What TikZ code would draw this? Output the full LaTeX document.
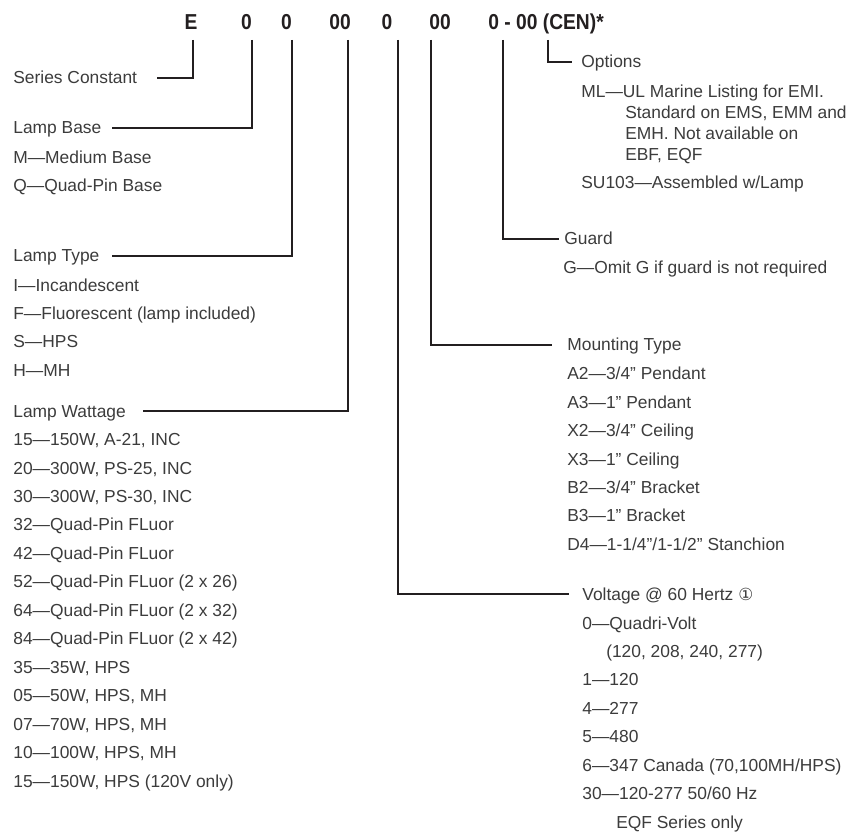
\documentclass[tikz,border=0pt]{standalone}
\usepackage{fontspec}
\setmainfont{Liberation Sans}
\newfontfamily\codefont[FakeStretch=0.89]{Liberation Sans}
\newfontfamily\symfont{DejaVu Sans}
\usetikzlibrary{positioning}
\definecolor{black90}{HTML}{231F20}
\definecolor{black75}{HTML}{3C3C3C}

\tikzset{
  code/.style={black90, anchor=base, inner sep=0pt,
    font=\codefont\bfseries\fontsize{12.3}{14}\selectfont},
  head/.style={black75, anchor=base west, inner sep=0pt,
    font=\fontsize{9.9}{16.2}\selectfont},
  list/.style={head, anchor=north west, align=left},
  lead/.style={black90, line width=1.2pt}
}

\begin{document}
\begin{tikzpicture}[x=0.02cm, y=-0.02cm]
  \useasboundingbox[fill=white] (0,0) rectangle (848,834);

  % the model code
  \node[code] (cE) at (191,30) {E};
  \node[code] (cBase) at (246.5,30) {0};
  \node[code] (cType) at (286.5,30) {0};
  \node[code] (cWatt) at (340,30) {00};
  \node[code] (cVolt) at (387,30) {0};
  \node[code] (cMount) at (440,30) {00};
  \node[code, anchor=base west] (cRest) at (488,30) {0 - 00 (CEN)*};

  \coordinate (tE) at (193,40);
  \coordinate (tBase) at (252,40);
  \coordinate (tType) at (292,40);
  \coordinate (tWatt) at (348,40);
  \coordinate (tVolt) at (398,40);
  \coordinate (tMount) at (431,40);
  \coordinate (tGuard) at (503,40);
  \coordinate (tOpt) at (548,40);

  % left column
  \node[head] (series) at (13,84) {Series Constant};

  \node[head] (base) at (13,134) {Lamp Base};
  \node[list] (baseL) at (13,150.1) {M—Medium Base\\Q—Quad-Pin Base};

  \node[head] (type) at (13,262) {Lamp Type};
  \node[list] (typeL) at (13,278.1) {I—Incandescent\\F—Fluorescent (lamp included)\\S—HPS\\H—MH};

  \node[head] (watt) at (13,417) {Lamp Wattage};
  \node[list] (wattL) at (13,433.1) {15—150W, A-21, INC\\20—300W, PS-25, INC\\30—300W, PS-30, INC\\
    32—Quad-Pin FLuor\\42—Quad-Pin FLuor\\52—Quad-Pin FLuor (2 x 26)\\
    64—Quad-Pin FLuor (2 x 32)\\84—Quad-Pin FLuor (2 x 42)\\35—35W, HPS\\
    05—50W, HPS, MH\\07—70W, HPS, MH\\10—100W, HPS, MH\\15—150W, HPS (120V only)};

  % right column
  \node[head] (opt) at (581,68) {Options};
  \node[list] (optL) at (581,84.9) {ML—UL Marine Listing for EMI.\\[-4.4pt]
    \hspace*{25pt}Standard on EMS, EMM and\\[-4.4pt]
    \hspace*{25pt}EMH. Not available on\\[-4.4pt]
    \hspace*{25pt}EBF, EQF\\SU103—Assembled w/Lamp};

  \node[head] (guard) at (564,245) {Guard};
  \node[list] (guardL) at (563,260.4) {G—Omit G if guard is not required};

  \node[head] (mount) at (567,351) {Mounting Type};
  \node[list] (mountL) at (567,366.7) {A2—3/4” Pendant\\A3—1” Pendant\\X2—3/4” Ceiling\\
    X3—1” Ceiling\\B2—3/4” Bracket\\B3—1” Bracket\\D4—1-1/4”/1-1/2” Stanchion};

  \node[head] (volt) at (582,600) {Voltage @ 60 Hertz {\symfont\fontsize{9.5}{10}\selectfont ①}};
  \node[list] (voltL) at (582,616.1) {0—Quadri-Volt\\\hspace*{13.6pt}(120, 208, 240, 277)\\
    1—120\\4—277\\5—480\\6—347 Canada (70,100MH/HPS)\\30—120-277 50/60 Hz\\
    \hspace*{19.3pt}EQF Series only};

  % leaders
  \draw[lead] (tE) |- ([shift={(11pt,3.4pt)}]series.base east);
  \draw[lead] (tBase) |- ([shift={(6pt,3.4pt)}]base.base east);
  \draw[lead] (tType) |- ([shift={(7pt,3.4pt)}]type.base east);
  \draw[lead] (tWatt) |- ([shift={(9.6pt,3.4pt)}]watt.base east);
  \draw[lead] (tVolt) |- ([shift={(-7.4pt,3.4pt)}]volt.base west);
  \draw[lead] (tMount) |- ([shift={(-8.5pt,3.4pt)}]mount.base west);
  \draw[lead] (tGuard) |- ([shift={(-2.8pt,3.4pt)}]guard.base west);
  \draw[lead] (tOpt) |- ([shift={(-5pt,3.4pt)}]opt.base west);
\end{tikzpicture}
\end{document}
